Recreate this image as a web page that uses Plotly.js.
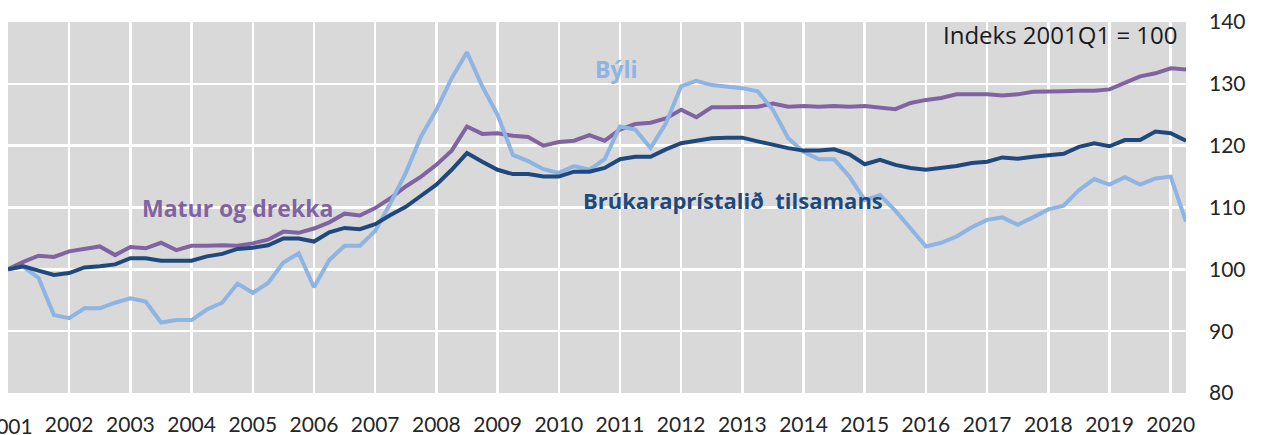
<!DOCTYPE html>
<html>
<head>
<meta charset="utf-8">
<script src="https://cdn.plot.ly/plotly-3.0.1.min.js"></script>
<style>
  html, body { margin: 0; padding: 0; background: #ffffff; }
  #chart { width: 1261px; height: 435px; }
</style>
</head>
<body>
<div id="chart"></div>
<script>
// Quarterly index, 2001Q1 = 100
const startYear = 2001;
const years = [2001, 2002, 2003, 2004, 2005, 2006, 2007, 2008, 2009, 2010,
               2011, 2012, 2013, 2014, 2015, 2016, 2017, 2018, 2019, 2020];
const yearLabels = ["2001", "2002", "2003", "2004", "2005", "2006", "2007", "2008", "2009", "2010",
                    "2011", "2012", "2013", "2014", "2015", "2016", "2017", "2018", "2019", "2020"];

const maturOgDrekka = [
  100.0, 101.2, 102.2, 102.0, 102.9, 103.3, 103.7, 102.3, 103.6, 103.4,
  104.3, 103.1, 103.8, 103.8, 103.9, 103.8, 104.2, 104.8, 106.1, 105.9,
  106.6, 107.6, 109.0, 108.7, 109.9, 111.5, 113.4, 115.0, 116.9, 119.2,
  123.1, 121.9, 122.0, 121.6, 121.4, 120.0, 120.6, 120.8, 121.7, 120.8,
  122.6, 123.5, 123.7, 124.4, 125.8, 124.6, 126.2, 126.2, 126.2, 126.3,
  126.8, 126.3, 126.4, 126.3, 126.4, 126.3, 126.4, 126.2, 125.9, 126.9,
  127.4, 127.7, 128.3, 128.3, 128.3, 128.1, 128.3, 128.7, 128.7, 128.8,
  128.9, 128.9, 129.1, 130.1, 131.2, 131.7, 132.5, 132.3
];

const brukaraprisTilsamans = [
  100.0, 100.5, 99.8, 99.1, 99.4, 100.3, 100.5, 100.8, 101.8, 101.8,
  101.4, 101.4, 101.4, 102.1, 102.5, 103.3, 103.5, 103.9, 105.0, 105.0,
  104.5, 106.0, 106.7, 106.5, 107.3, 108.8, 110.1, 111.9, 113.7, 116.1,
  118.8, 117.4, 116.1, 115.4, 115.4, 115.0, 115.0, 115.8, 115.8, 116.4,
  117.8, 118.2, 118.2, 119.4, 120.4, 120.8, 121.2, 121.3, 121.3, 120.7,
  120.1, 119.6, 119.2, 119.2, 119.4, 118.6, 117.0, 117.7, 116.9, 116.4,
  116.1, 116.4, 116.7, 117.2, 117.4, 118.1, 117.9, 118.2, 118.4, 118.7,
  119.8, 120.4, 119.9, 120.9, 120.9, 122.3, 122.0, 120.8
];

const byli = [
  100.0, 100.4, 98.6, 92.6, 92.1, 93.7, 93.7, 94.6, 95.3, 94.8,
  91.4, 91.8, 91.8, 93.5, 94.6, 97.7, 96.2, 97.8, 101.1, 102.6,
  97.1, 101.5, 103.8, 103.8, 106.2, 110.7, 115.6, 121.5, 125.8, 130.9,
  135.1, 129.6, 125.0, 118.5, 117.5, 116.2, 115.6, 116.7, 116.1, 117.8,
  123.1, 122.6, 119.6, 123.6, 129.6, 130.5, 129.8, 129.6, 129.3, 128.8,
  125.8, 121.2, 119.0, 117.8, 117.8, 115.0, 111.2, 112.0, 109.5, 106.6,
  103.7, 104.3, 105.3, 106.8, 108.0, 108.4, 107.2, 108.4, 109.7, 110.3,
  112.8, 114.6, 113.7, 114.9, 113.7, 114.7, 115.0, 107.7
];

// quarter positions (year + fraction), derived from the quarter index
const quarterX = maturOgDrekka.map((_, i) => startYear + i / 4);

const cPurple = "#8064A2";
const cNavy = "#1F497D";
const cLight = "#8DB4E2";
const fontFam = "Lato, 'Open Sans', 'DejaVu Sans', sans-serif";
const labelFam = "'Open Sans', Lato, 'DejaVu Sans', sans-serif";

const traces = [
  { x: quarterX, y: maturOgDrekka, type: "scatter", mode: "lines", name: "Matur og drekka",
    line: { color: cPurple, width: 4 } },
  { x: quarterX, y: byli, type: "scatter", mode: "lines", name: "Býli",
    line: { color: cLight, width: 4 } },
  { x: quarterX, y: brukaraprisTilsamans, type: "scatter", mode: "lines", name: "Brúkaraprístalið tilsamans",
    line: { color: cNavy, width: 4 } }
];

const layout = {
  width: 1261, height: 435,
  margin: { l: 8, r: 75, t: 22, b: 42, pad: 0 },
  paper_bgcolor: "#ffffff",
  plot_bgcolor: "#D9D9D9",
  showlegend: false,
  font: { family: fontFam, size: 21, color: "#262626" },
  xaxis: {
    type: "linear",
    range: [2001, 2020.25],
    tickmode: "array",
    tickvals: years,
    ticktext: yearLabels,
    showgrid: true, gridcolor: "#ffffff", gridwidth: 2.5,
    zeroline: false, showline: false, ticks: "",
    tickfont: { family: fontFam, size: 21, color: "#262626" },
    ticklabelstandoff: 17,
    fixedrange: true
  },
  yaxis: {
    side: "right",
    range: [80, 140],
    tickmode: "linear", tick0: 80, dtick: 10,
    showgrid: true, gridcolor: "#ffffff", gridwidth: 2.5,
    zeroline: false, showline: false, ticks: "",
    tickfont: { family: fontFam, size: 21, color: "#262626" },
    ticklabelstandoff: 22,
    fixedrange: true
  },
  annotations: [
    // first year label, which sits on the plot's left edge and is partly cut by the page (as in the source)
    { xref: "x", yref: "paper", x: years[0], y: 0, xanchor: "center", yanchor: "middle",
      yshift: -32, text: yearLabels[0], showarrow: false,
      font: { family: fontFam, size: 21, color: "#262626" } },
    { xref: "x", yref: "y", x: 2020.15, y: 138.0, xanchor: "right", yanchor: "middle",
      text: "Indeks 2001Q1 = 100", showarrow: false,
      font: { family: labelFam, size: 24, color: "#1a1a1a" } },
    { xref: "x", yref: "y", x: 2003.16, y: 109.9, xanchor: "left", yanchor: "middle",
      text: "<b>Matur og drekka</b>", showarrow: false,
      font: { family: labelFam, size: 23, color: cPurple } },
    { xref: "x", yref: "y", x: 2010.56, y: 132.4, xanchor: "left", yanchor: "middle",
      text: "<b>Býli</b>", showarrow: false,
      font: { family: labelFam, size: 23, color: cLight } },
    { xref: "x", yref: "y", x: 2010.36, y: 111.2, xanchor: "left", yanchor: "middle",
      text: "<b>Brúkaraprístalið  tilsamans</b>", showarrow: false,
      font: { family: labelFam, size: 22, color: cNavy } }
  ]
};

Plotly.newPlot("chart", traces, layout, { displayModeBar: false, staticPlot: true });
</script>
</body>
</html>
